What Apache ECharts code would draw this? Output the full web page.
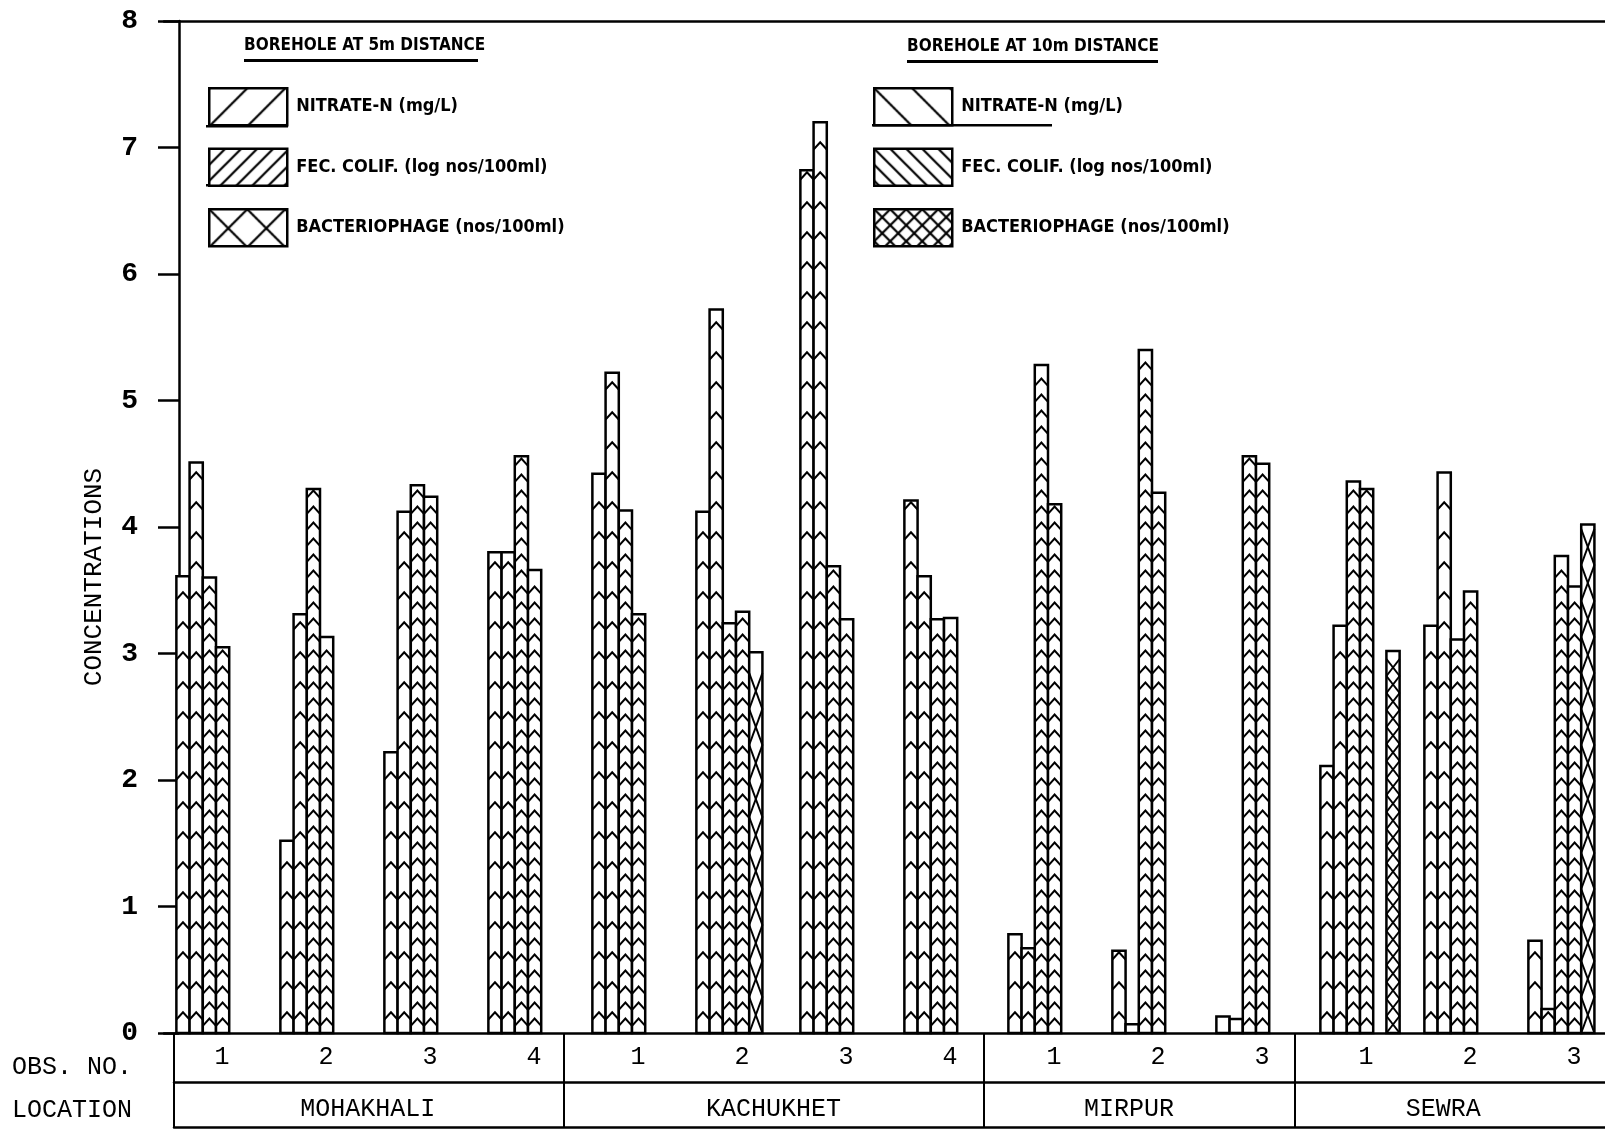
<!DOCTYPE html>
<html>
<head>
<meta charset="utf-8">
<script src="https://cdn.jsdelivr.net/npm/echarts@6/dist/echarts.min.js"></script>
<style>
  html, body { margin: 0; padding: 0; background: #fff; }
  #chart { width: 1605px; height: 1133px; }
</style>
</head>
<body>
<div id="chart"></div>
<script>
// Observation numbers along the x axis, grouped by location
const obsLabels = ['1', '2', '3', '4', '1', '2', '3', '4', '1', '2', '3', '1', '2', '3'];
const locations = ['MOHAKHALI', 'KACHUKHET', 'MIRPUR', 'SEWRA'];
const yTicks = [0, 1, 2, 3, 4, 5, 6, 7, 8];

// Measured values per observation (null = not measured)
const nitrate5m   = [3.61, 1.52, 2.22, 3.80, 4.42, 4.12, 6.82, 4.21, 0.78, 0.65, 0.13, 2.11, 3.22, 0.73];
const nitrate10m  = [4.51, 3.31, 4.12, 3.80, 5.22, 5.72, 7.20, 3.61, 0.67, 0.07, 0.11, 3.22, 4.43, 0.19];
const fecColif5m  = [3.60, 4.30, 4.33, 4.56, 4.13, 3.24, 3.69, 3.27, 5.28, 5.40, 4.56, 4.36, 3.11, 3.77];
const fecColif10m = [3.05, 3.13, 4.24, 3.66, 3.31, 3.33, 3.27, 3.28, 4.18, 4.27, 4.50, 4.30, 3.49, 3.53];
const phage5m     = [null, null, null, null, null, 3.01, null, null, null, null, null, null, null, 4.02];
const phage10m    = [null, null, null, null, null, null, null, null, null, null, null, 3.02, null, null];

// Table rows under the axis: section borders and section centres, in observation units
const sectionBorders = [-0.404, 3.346, 7.385, 10.375];
const sectionCentres = [1.46, 5.36, 8.78, 11.80];

const MONO = '"Liberation Mono", "DejaVu Sans Mono", monospace';
const NARROW = '"Liberation Sans Narrow", "DejaVu Sans Condensed", "DejaVu Sans", sans-serif';
const BAR_SHARE = 0.127; // one bar's share of a category band (six slots per observation)

// Hatch tiles for the legend swatches
function hatchTile(size, kind) {
  const c = document.createElement('canvas');
  c.width = c.height = size;
  const g = c.getContext('2d');
  g.fillStyle = '#fff';
  g.fillRect(0, 0, size, size);
  g.strokeStyle = '#000';
  g.lineWidth = 2.2;
  const fwd = () => {
    g.moveTo(0, size); g.lineTo(size, 0);
    g.moveTo(-3, 3); g.lineTo(3, -3);
    g.moveTo(size - 3, size + 3); g.lineTo(size + 3, size - 3);
  };
  const back = () => {
    g.moveTo(0, 0); g.lineTo(size, size);
    g.moveTo(size - 3, -3); g.lineTo(size + 3, 3);
    g.moveTo(-3, size - 3); g.lineTo(3, size + 3);
  };
  g.beginPath();
  if (kind === '/' || kind === 'x') fwd();
  if (kind === '\\' || kind === 'x') back();
  g.stroke();
  return { image: c, repeat: 'repeat' };
}

// Draws one bar of a given slot with its fill marks, positioned via the axes
function barRenderer(slot, hatch, step) {
  return function (params, api) {
    const value = api.value(1);
    if (isNaN(value)) return null;
    const cat = api.value(0);
    const base = api.coord([cat, 0]);
    const top = api.coord([cat, value]);
    const w = api.size([1, 0])[0] * BAR_SHARE;
    const x0 = base[0] + (slot - 3) * w;
    const x1 = x0 + w;
    const h = base[1] - top[1];
    const children = [{
      type: 'rect', shape: { x: x0, y: top[1], width: w, height: h },
      style: { fill: '#fff' }
    }];
    const mark = { stroke: '#000', lineWidth: 2, fill: null };
    if (hatch === 'chevron') {
      const rise = w * 0.55;
      for (let y = base[1] - step * 0.45; y - rise > top[1] + 1; y -= step) {
        children.push({ type: 'polyline', shape: { points: [[x0, y], [x0 + w / 2, y - rise], [x1, y]] }, style: mark });
      }
    } else {
      for (let y = base[1]; y - step >= top[1] - 1; y -= step) {
        children.push({ type: 'line', shape: { x1: x0, y1: y, x2: x1, y2: y - step }, style: mark });
        children.push({ type: 'line', shape: { x1: x1, y1: y, x2: x0, y2: y - step }, style: mark });
      }
    }
    children.push({
      type: 'rect', shape: { x: x0, y: top[1], width: w, height: h },
      style: { fill: null, stroke: '#000', lineWidth: 2.5 }
    });
    return { type: 'group', children };
  };
}

const seriesDefs = [
  { name: 'n5',  values: nitrate5m,   slot: 0, hatch: 'chevron', step: 30, text: 'NITRATE-N (mg/L)',             swatch: hatchTile(38, '/') },
  { name: 'n10', values: nitrate10m,  slot: 1, hatch: 'chevron', step: 30, text: 'NITRATE-N (mg/L)',             swatch: hatchTile(38, '\\') },
  { name: 'f5',  values: fecColif5m,  slot: 2, hatch: 'chevron', step: 16, text: 'FEC. COLIF. (log nos/100ml)',  swatch: hatchTile(16, '/') },
  { name: 'f10', values: fecColif10m, slot: 3, hatch: 'chevron', step: 16, text: 'FEC. COLIF. (log nos/100ml)',  swatch: hatchTile(16, '\\') },
  { name: 'p5',  values: phage5m,     slot: 4, hatch: 'cross',   step: 36, text: 'BACTERIOPHAGE (nos/100ml)',    swatch: hatchTile(38, 'x') },
  { name: 'p10', values: phage10m,    slot: 5, hatch: 'cross',   step: 17, text: 'BACTERIOPHAGE (nos/100ml)',    swatch: hatchTile(16, 'x') }
];
const legendText = {};
seriesDefs.forEach(d => { legendText[d.name] = d.text; });

function legendEntries(names) {
  return names.map(n => {
    const d = seriesDefs.find(s => s.name === n);
    return { name: n, icon: 'rect', itemStyle: { color: d.swatch, borderColor: '#000', borderWidth: 2.5 } };
  });
}

const legendBase = {
  orient: 'vertical', padding: 0, itemWidth: 78, itemHeight: 37, itemGap: 21,
  selectedMode: false, formatter: n => legendText[n],
  textStyle: { fontFamily: NARROW, fontWeight: 'bold', fontSize: 18, color: '#000', padding: [0, 0, 0, 4] }
};

const axisBlack = { color: '#000', width: 2.5 };

const option = {
  animation: false,
  backgroundColor: '#fff',
  grid: [
    { left: 164, top: 21, width: 1456, height: 1012, outerBoundsMode: 'none' },
    { left: 174, top: 21, width: 1431, height: 1012, outerBoundsMode: 'none' }
  ],
  xAxis: [
    {
      type: 'category', gridIndex: 0, data: obsLabels, position: 'bottom',
      axisLine: { onZero: false, lineStyle: axisBlack },
      axisTick: { alignWithLabel: true, length: 12, lineStyle: { color: '#000', width: 2 } },
      axisLabel: { margin: 12, color: '#000', fontFamily: MONO, fontSize: 25, padding: [0, 0, 0, 12] },
      splitLine: { show: false }
    },
    {
      type: 'category', gridIndex: 0, data: obsLabels, position: 'top',
      axisLine: { onZero: false, lineStyle: axisBlack }, axisTick: { show: false }, axisLabel: { show: false }
    },
    {
      type: 'value', gridIndex: 1, min: -0.404, max: 13.356, position: 'bottom', offset: 49,
      axisLine: { onZero: false, lineStyle: axisBlack },
      axisTick: { show: true, inside: true, length: 49, customValues: sectionBorders, lineStyle: { color: '#000', width: 2 } },
      axisLabel: {
        show: true, margin: 15, customValues: sectionCentres, color: '#000', fontFamily: MONO, fontSize: 25,
        formatter: v => locations[sectionCentres.indexOf(v)] || ''
      },
      splitLine: { show: false }
    },
    {
      type: 'value', gridIndex: 1, min: -0.404, max: 13.356, position: 'bottom', offset: 94,
      axisLine: { onZero: false, lineStyle: axisBlack },
      axisTick: { show: true, inside: true, length: 45, customValues: sectionBorders, lineStyle: { color: '#000', width: 2 } },
      axisLabel: { show: false }, splitLine: { show: false }
    }
  ],
  yAxis: [
    {
      type: 'value', gridIndex: 0, min: yTicks[0], max: yTicks[yTicks.length - 1], interval: 1, offset: -15,
      axisLine: { show: true, onZero: false, lineStyle: axisBlack },
      axisTick: { show: true, length: 21, lineStyle: { color: '#000', width: 2.5 } },
      axisLabel: { margin: 41, color: '#000', fontFamily: MONO, fontWeight: 'bold', fontSize: 28 },
      splitLine: { show: false },
      name: 'CONCENTRATIONS', nameLocation: 'middle', nameRotate: 90, nameGap: 72,
      nameTextStyle: { fontFamily: MONO, fontSize: 26, color: '#000', padding: [0, 100, 0, 0] }
    },
    { type: 'value', gridIndex: 1, min: 0, max: 8, show: false }
  ],
  legend: [
    Object.assign({ left: 208, top: 87, data: legendEntries(['n5', 'f5', 'p5']) }, legendBase),
    Object.assign({ left: 873, top: 87, data: legendEntries(['n10', 'f10', 'p10']) }, legendBase)
  ],
  graphic: [
    { type: 'text', x: 244, y: 46, style: { text: 'BOREHOLE AT 5m DISTANCE', font: 'bold 17px ' + NARROW, fill: '#000', verticalAlign: 'middle' } },
    { type: 'rect', shape: { x: 244, y: 59, width: 234, height: 3 }, style: { fill: '#000' } },
    { type: 'text', x: 907, y: 47, style: { text: 'BOREHOLE AT 10m DISTANCE', font: 'bold 17px ' + NARROW, fill: '#000', verticalAlign: 'middle' } },
    { type: 'rect', shape: { x: 907, y: 60, width: 251, height: 3 }, style: { fill: '#000' } },
    { type: 'rect', shape: { x: 206, y: 125, width: 82, height: 2.5 }, style: { fill: '#000' } },
    { type: 'rect', shape: { x: 206, y: 184, width: 82, height: 2.5 }, style: { fill: '#000' } },
    { type: 'rect', shape: { x: 872, y: 124, width: 180, height: 2.5 }, style: { fill: '#000' } },
    { type: 'text', x: 12, y: 1067, style: { text: 'OBS. NO.', font: '25px ' + MONO, fill: '#000', verticalAlign: 'middle' } },
    { type: 'text', x: 12, y: 1110, style: { text: 'LOCATION', font: '25px ' + MONO, fill: '#000', verticalAlign: 'middle' } }
  ],
  series: seriesDefs.map(d => ({
    type: 'custom', name: d.name, xAxisIndex: 0, yAxisIndex: 0,
    itemStyle: { color: '#fff', borderColor: '#000' },
    encode: { x: 0, y: 1 },
    data: d.values.map((v, i) => [i, v == null ? '-' : v]),
    renderItem: barRenderer(d.slot, d.hatch, d.step)
  }))
};

const chart = echarts.init(document.getElementById('chart'), null, { renderer: 'canvas' });
chart.setOption(option);
</script>
</body>
</html>
